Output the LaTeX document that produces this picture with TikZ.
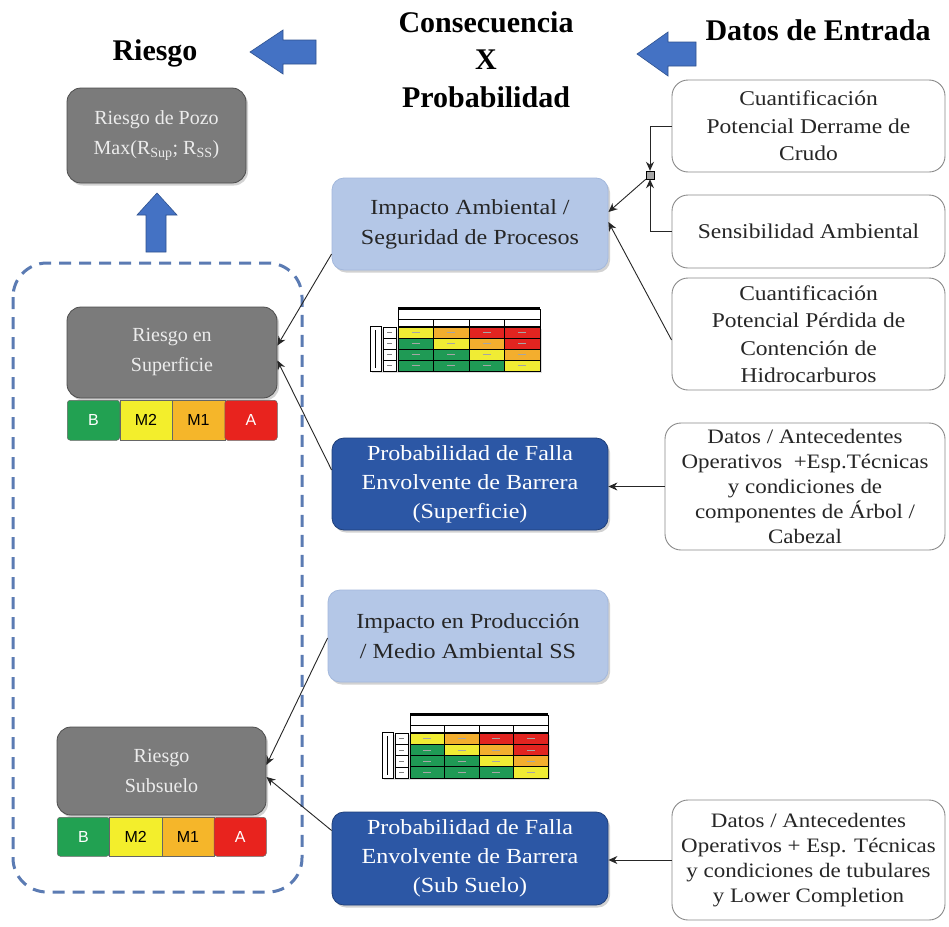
\documentclass[tikz,border=0pt]{standalone}
\usepackage{fontspec}
\setmainfont{Liberation Serif}
\setsansfont{Liberation Sans}
\newfontfamily\boxfont{Liberation Serif}[FakeStretch=1.12]
\usetikzlibrary{arrows.meta,shadows,calc}

\definecolor{boxgray}{HTML}{7B7B7B}
\definecolor{boxgrayedge}{HTML}{4D4D4D}
\definecolor{graytext}{HTML}{ECECEC}
\definecolor{lightblue}{HTML}{B4C7E7}
\definecolor{lightblueedge}{HTML}{A3B8DC}
\definecolor{darkblue}{HTML}{2C57A5}
\definecolor{darkblueedge}{HTML}{1F3F7A}
\definecolor{inedge}{HTML}{8A8A8A}
\definecolor{arrowblue}{HTML}{4472C4}
\definecolor{arrowedge}{HTML}{2F528F}
\definecolor{dashblue}{HTML}{5B7BB3}
% risk level colours
\definecolor{lvB}{HTML}{22A152}
\definecolor{lvMb}{HTML}{F3EE2C}
\definecolor{lvMa}{HTML}{F5B62A}
\definecolor{lvA}{HTML}{E8231E}
% matrix cell colours, index 0..3
\definecolor{mc0}{HTML}{1F9A55}
\definecolor{mc1}{HTML}{F0EC34}
\definecolor{mc2}{HTML}{F3AE2E}
\definecolor{mc3}{HTML}{E22420}

\tikzset{
  heading/.style={font={\fontsize{30}{36}\selectfont\bfseries}, align=center, inner sep=0pt},
  shadowed/.style={drop shadow={opacity=0.35, shadow xshift=2pt, shadow yshift=-2.5pt}},
  graybox/.style={shadowed, rounded corners=14pt, fill=boxgray, draw=boxgrayedge, line width=0.8pt,
    text=graytext, align=center, font={\fontsize{20}{30}\selectfont}},
  lightbox/.style={shadowed, rounded corners=12pt, fill=lightblue, draw=lightblueedge, line width=0.8pt,
    text=black!85, align=center, font={\boxfont\fontsize{21.5}{30}\selectfont}},
  darkbox/.style={shadowed, rounded corners=12pt, fill=darkblue, draw=darkblueedge, line width=0.8pt,
    text=white, align=center, font={\boxfont\fontsize{21.5}{29}\selectfont}},
  inbox/.style={rounded corners=16pt, fill=white, draw=inedge, line width=0.9pt,
    text=black!85, align=center, font={\boxfont\fontsize{21}{27.5}\selectfont}},
  conn/.style={-{Stealth[length=9pt,width=8pt]}, line width=0.9pt, black!85},
  barcell/.style={minimum height=39pt, inner sep=0pt, draw=black!60, line width=0.5pt,
    font={\sffamily\fontsize{16}{16}\selectfont}},
  blockarrow/.style={fill=arrowblue, draw=arrowedge, line width=0.6pt},
}

% risk level strip: #1 left x, #2 top y, #3 cell width, #4 height
\newcommand\levelstrip[4]{%
  \node[barcell, fill=lvB,  text=white, minimum width=#3pt, minimum height=#4pt, anchor=north west, rounded corners=3pt] at (#1,#2) {B};
  \node[barcell, fill=lvMb, text=black, minimum width=#3pt, minimum height=#4pt, anchor=north west] at ({#1+#3},#2) {M2};
  \node[barcell, fill=lvMa, text=black, minimum width=#3pt, minimum height=#4pt, anchor=north west] at ({#1+2*#3},#2) {M1};
  \node[barcell, fill=lvA,  text=white, minimum width=#3pt, minimum height=#4pt, anchor=north west, rounded corners=3pt] at ({#1+3*#3},#2) {A};
}

% small consequence/probability matrix: #1 x0, #2 y0 (top-left of cells), #3 cell width, #4 cell height
\newcommand\riskgrid[4]{%
  \begin{scope}[shift={(#1,#2)}]
    \fill[black!25, opacity=0.5] (-28+2,2) rectangle (4*#3+2,4*#4+2);
    \draw[line width=1.3pt] (0,-19) -- (4*#3,-19);
    \draw[line width=0.4pt, fill=white] (0,-18) rectangle (4*#3,-8);
    \draw[line width=0.4pt, fill=white] (0,-8) rectangle (4*#3,-1);
    \foreach \c in {1,2,3} \draw[line width=0.9pt] (\c*#3,-8) -- (\c*#3,-1);
    \draw[line width=0.4pt, fill=white] (-28,-1) rectangle (-17,4*#4);
    \draw[line width=0.6pt] (-22.5,3) -- (-22.5,4*#4-3);
    \foreach \r in {0,...,3} {
      \draw[line width=0.4pt, fill=white] (-15,\r*#4) rectangle (-2,\r*#4+#4);
      \draw[line width=0.3pt, black!50] (-11,\r*#4+#4/2) -- (-6,\r*#4+#4/2);
      \foreach \c in {0,...,3} {
        \pgfmathtruncatemacro\k{max(min(\c-\r+1,3),0)}
        \draw[fill=mc\k, line width=0.9pt] (\c*#3,\r*#4) rectangle (\c*#3+#3,\r*#4+#4);
        \draw[line width=0.3pt, black!35] (\c*#3+#3/2-4,\r*#4+#4/2) -- (\c*#3+#3/2+4,\r*#4+#4/2);
      }
    }
  \end{scope}}

\begin{document}
\begin{tikzpicture}[x=1pt,y=-1pt]
\useasboundingbox[fill=white] (0,0) rectangle (949,926);

% column headings
\node[heading] (hRiesgo) at (155,53) {Riesgo};
\node[heading] (hCons) at (486,22) {Consecuencia};
\node[heading] (hX) at (486,60) {X};
\node[heading] (hProb) at (486,97) {Probabilidad};
\node[heading] (hDatos) at (818,30) {Datos de Entrada};

% block arrows
\draw[blockarrow] (250,52) -- (283,30) -- (283,40) -- (316,40) -- (316,64) -- (283,64) -- (283,74) -- cycle;
\draw[blockarrow] (637,54) -- (668,32) -- (668,42) -- (696,42) -- (696,66) -- (668,66) -- (668,76) -- cycle;
\draw[blockarrow] (157,193) -- (177,215) -- (166,215) -- (166,252) -- (146,252) -- (146,215) -- (137,215) -- cycle;

% grouping outline round the two risk boxes
\draw[dashblue, line width=3pt, dash pattern=on 12pt off 8pt, rounded corners=34pt] (13,263) rectangle (302,892);

% risk boxes
\node[graybox, minimum width=179pt, minimum height=95pt] (pozo) at (156.5,135.5)
  {Riesgo de Pozo\\Max(R\textsubscript{Sup}; R\textsubscript{SS})};
\node[graybox, minimum width=210pt, minimum height=91pt] (rsup) at (172,352.5) {Riesgo en\\Superficie};
\node[graybox, minimum width=209pt, minimum height=88pt] (rsub) at (161.5,771) {Riesgo\\Subsuelo};
\levelstrip{67}{400}{52.5}{40}
\levelstrip{57}{817}{52.25}{39}

% consequence and probability boxes
\node[lightbox, minimum width=276pt, minimum height=92pt] (imp) at (470,224) {Impacto Ambiental /\\Seguridad de Procesos};
\node[darkbox, minimum width=276pt, minimum height=92pt] (psup) at (470,484) {Probabilidad de Falla\\Envolvente de Barrera\\(Superficie)};
\node[lightbox, minimum width=280pt, minimum height=92pt] (iprod) at (468,636) {Impacto en Producción\\/ Medio Ambiental SS};
\node[darkbox, minimum width=276pt, minimum height=93pt] (psub) at (470,858.5) {Probabilidad de Falla\\Envolvente de Barrera\\(Sub Suelo)};

% matrices
\riskgrid{398}{327}{35.5}{11}
\riskgrid{410}{733}{34.5}{11.25}

% input data boxes
\node[inbox, minimum width=273pt, minimum height=92pt] (r1) at (808.5,126) {Cuantificación\\Potencial Derrame  de\\Crudo};
\node[inbox, minimum width=273pt, minimum height=73pt] (r2) at (808.5,231.5) {Sensibilidad Ambiental};
\node[inbox, minimum width=273pt, minimum height=112pt] (r3) at (808.5,334) {Cuantificación\\Potencial Pérdida de\\Contención de\\Hidrocarburos};
\node[inbox, minimum width=280pt, minimum height=127pt, font={\boxfont\fontsize{20.5}{25}\selectfont}] (r4) at (805,486.5)
  {Datos / Antecedentes\\Operativos \ +Esp.Técnicas\\y condiciones de\\componentes de Árbol /\\Cabezal};
\node[inbox, minimum width=273pt, minimum height=120pt, font={\boxfont\fontsize{20.5}{25}\selectfont}] (r5) at (808.5,860)
  {Datos / Antecedentes\\Operativos + Esp. Técnicas\\y condiciones de tubulares\\y Lower Completion};

% junction of the two environmental inputs
\node[draw=black, fill=gray!70, minimum size=8pt, inner sep=0pt] (jn) at (650,175) {};
\draw[conn] (r1.west) -| (jn.north);
\draw[conn] (r2.west) -| (jn.south);
\draw[conn] (jn.south west) -- ([yshift=12pt]imp.east);
\draw[conn] ([yshift=-6pt]r3.west) -- ([yshift=2pt]imp.east);

% inputs to probability boxes
\draw[conn] (r4.west) -- (r4.west -| psup.east);
\draw[conn] (r5.west) -- (r5.west -| psub.east);

% consequence x probability into the risk boxes
\draw[conn] ([yshift=-30pt]imp.west) -- ([yshift=7pt]rsup.east);
\draw[conn] ([yshift=14pt]psup.west) -- ([yshift=-8pt]rsup.east);
\draw[conn] ([yshift=-2pt]iprod.west) -- ([yshift=6pt]rsub.east);
\draw[conn] ([yshift=28pt]psub.west) -- ([yshift=-6pt]rsub.east);
\end{tikzpicture}
\end{document}
